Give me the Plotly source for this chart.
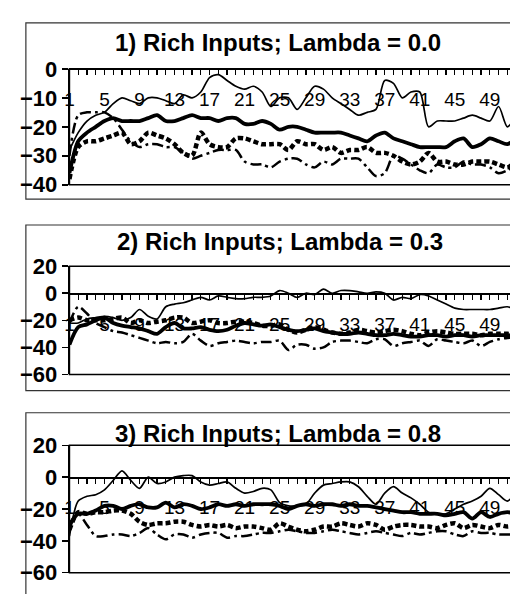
import plotly.graph_objects as go

W, H = 518, 594

categories = list(range(1, 53))
x_tick_vals = list(range(1, 53, 4))
x_tick_text = [str(v) for v in x_tick_vals]

titles = ["1) Rich Inputs; Lambda = 0.0",
          "2) Rich Inputs; Lambda = 0.3",
          "3) Rich Inputs; Lambda = 0.8"]

# ---- Panel 1 (Lambda = 0.0) ----
p1_thin = [-28, -22, -18, -16, -15, -12, -10, -11, -12, -10, -10, -11, -12, -9, -10, -8, -3, -2, -4, -6,
           -7, -6, -8, -13, -10, -10, -14, -10, -6, -7, -10, -12, -14, -16, -15, -14, -4, -5, -10, -8,
           -8, -20, -18, -18, -18, -17, -16, -17, -18, -13, -20, -16]
p1_thick = [-36, -25, -22, -20, -18, -17, -18, -18, -18, -17, -16, -18, -18, -17, -16, -17, -17, -18, -17, -17,
            -19, -19, -18, -19, -21, -20, -20, -21, -22, -22, -22, -22, -23, -24, -25, -23, -22, -24, -25, -26,
            -27, -27, -27, -27, -25, -24, -27, -26, -24, -25, -26, -24]
p1_square = [-38, -27, -25, -25, -24, -23, -22, -26, -25, -22, -23, -24, -26, -29, -30, -22, -26, -27, -27, -24,
             -24, -25, -26, -26, -26, -28, -25, -26, -26, -28, -27, -29, -28, -28, -27, -29, -29, -30, -32, -33,
             -32, -29, -32, -32, -33, -33, -32, -32, -32, -33, -34, -32]
p1_dashdot = [-30, -16, -15, -15, -15, -17, -21, -25, -27, -26, -26, -27, -27, -29, -31, -30, -29, -28, -28, -28,
              -32, -33, -33, -34, -32, -31, -31, -33, -34, -32, -33, -31, -31, -31, -34, -37, -36, -30, -31, -33,
              -35, -36, -33, -34, -34, -32, -33, -33, -34, -36, -35, -33]

# ---- Panel 2 (Lambda = 0.3) ----
p2_thin = [-22, -22, -19, -18, -17, -18, -20, -18, -12, -17, -19, -10, -8, -7, -5, -3, -5, -2, -3, -4,
           -4, -3, -3, -2, 2, 0, -3, 0, -1, 3, 0, 2, 2, 1, 0, 1, 0, -5, -3, -4,
           -1, -2, -5, -8, -11, -12, -12, -12, -12, -11, -10, -12]
p2_thick = [-38, -25, -23, -20, -18, -22, -24, -25, -26, -28, -30, -25, -22, -26, -26, -25, -27, -28, -27, -24,
            -22, -23, -24, -23, -25, -27, -28, -27, -26, -28, -29, -30, -30, -29, -30, -31, -31, -30, -31, -32,
            -32, -31, -31, -32, -31, -31, -32, -31, -31, -31, -31, -32]
p2_square = [-20, -18, -20, -20, -20, -19, -18, -22, -20, -22, -21, -20, -18, -18, -22, -21, -20, -22, -22, -21,
             -21, -22, -24, -24, -23, -27, -29, -27, -25, -27, -29, -30, -29, -27, -28, -29, -28, -27, -28, -30,
             -31, -29, -28, -29, -30, -30, -30, -31, -30, -30, -30, -31]
p2_dashdot = [-22, -10, -15, -22, -25, -28, -29, -31, -33, -35, -37, -36, -37, -36, -30, -35, -39, -37, -36, -35,
              -36, -37, -36, -36, -35, -42, -38, -38, -41, -40, -36, -35, -35, -36, -37, -34, -34, -39, -37, -36,
              -35, -39, -34, -35, -36, -37, -35, -39, -36, -34, -33, -33]

# ---- Panel 3 (Lambda = 0.8) ----
p3_thin = [-37, -15, -12, -11, -8, -2, 4, -2, -7, 0, -4, -3, 0, 1, 1, -3, -5, -4, -3, -7,
           -10, -9, -7, -8, -16, -18, -18, -17, -10, -5, -4, -3, -3, -6, -12, -17, -10, -6, -10, -13,
           -17, -22, -23, -23, -20, -17, -15, -12, -7, -11, -15, -9]
p3_thick = [-30, -23, -23, -21, -18, -18, -20, -18, -17, -19, -19, -16, -19, -17, -18, -20, -19, -17, -18, -17,
            -18, -17, -17, -17, -18, -20, -18, -17, -18, -17, -17, -18, -17, -18, -18, -19, -20, -21, -22, -22,
            -23, -23, -23, -24, -23, -22, -26, -22, -25, -23, -22, -23]
p3_square = [-33, -22, -23, -22, -22, -21, -21, -23, -28, -30, -29, -29, -28, -28, -30, -31, -30, -31, -30, -32,
             -31, -31, -32, -33, -29, -31, -33, -34, -33, -31, -31, -29, -30, -31, -29, -30, -33, -31, -30, -30,
             -31, -31, -32, -30, -29, -32, -30, -31, -32, -30, -31, -30]
p3_dashdot = [-30, -23, -30, -37, -37, -36, -36, -37, -35, -32, -36, -39, -36, -36, -38, -36, -35, -35, -38, -37,
              -37, -36, -35, -35, -34, -33, -34, -35, -35, -34, -33, -34, -35, -36, -35, -34, -35, -36, -37, -35,
              -36, -35, -34, -34, -36, -37, -34, -35, -35, -36, -36, -36]

panels = [
    dict(title=titles[0], series=[p1_thin, p1_thick, p1_square, p1_dashdot], yrange=[-40, 0], dtick=10,
         box=(57, 51, 508, 172), frame=(13, 3, 530, 187), title_pos=(268, 23)),
    dict(title=titles[1], series=[p2_thin, p2_thick, p2_square, p2_dashdot], yrange=[-60, 20], dtick=20,
         box=(57, 257, 508, 370), frame=(13, 214, 530, 387), title_pos=(270, 231)),
    dict(title=titles[2], series=[p3_thin, p3_thick, p3_square, p3_dashdot], yrange=[-60, 20], dtick=20,
         box=(57, 444, 508, 577), frame=(13, 410, 530, 620), title_pos=(268, 432)),
]

styles = [
    dict(width=1.7, dash="solid"),
    dict(width=3.8, dash="solid"),
    dict(width=4.5, dash="5px,3px"),
    dict(width=2.5, dash="11px,4px,3px,4px"),
]

FONT = "Liberation Sans, Arial, sans-serif"

fig = go.Figure()
shapes = []
annotations = []
layout_axes = {}

for i, p in enumerate(panels):
    n = i + 1
    xname = "x" if n == 1 else f"x{n}"
    yname = "y" if n == 1 else f"y{n}"
    x0, y0, x1, y1 = p["box"]
    xdom = [x0 / W, x1 / W]
    ydom = [1 - y1 / H, 1 - y0 / H]
    ymin, ymax = p["yrange"]
    zero_pos = ydom[0] + (0 - ymin) / (ymax - ymin) * (ydom[1] - ydom[0])

    for vals, st in zip(p["series"], styles):
        fig.add_trace(go.Scatter(
            x=categories, y=vals, mode="lines", xaxis=xname, yaxis=yname,
            line=dict(color="black", width=st["width"], dash=st["dash"], shape="spline", smoothing=0.8),
            showlegend=False, hoverinfo="skip"))

    layout_axes["xaxis" if n == 1 else f"xaxis{n}"] = dict(
        domain=xdom, range=[1, 52], anchor="free", position=zero_pos,
        showgrid=False, zeroline=False, showline=True, linecolor="black", linewidth=1.5,
        tickmode="array", tickvals=x_tick_vals, ticktext=x_tick_text,
        ticks="outside", ticklen=5, tickwidth=1.2, tickcolor="black",
        minor=dict(tickmode="linear", tick0=1, dtick=1, ticks="outside", ticklen=5,
                   tickwidth=1.2, tickcolor="black", showgrid=False),
        ticklabelstandoff=8,
        tickfont=dict(family=FONT, size=19, color="black"),
        fixedrange=True,
    )
    layout_axes["yaxis" if n == 1 else f"yaxis{n}"] = dict(
        domain=ydom, range=p["yrange"], anchor=xname, side="left",
        tickmode="linear", tick0=ymin, dtick=p["dtick"],
        showgrid=False, zeroline=False, showline=True, linecolor="black", linewidth=1.8,
        ticks="outside", ticklen=6, tickwidth=1.5, tickcolor="black",
        tickfont=dict(family=FONT, size=22, color="black", weight="bold"),
        fixedrange=True,
    )
    shapes.append(dict(type="rect", xref=f"{xname} domain", yref=f"{yname} domain",
                       x0=0, x1=1, y0=0, y1=1, line=dict(color="black", width=1.5), layer="above"))
    fx0, fy0, fx1, fy1 = p["frame"]
    shapes.append(dict(type="rect", xref="paper", yref="paper",
                       x0=fx0 / W, x1=fx1 / W, y0=1 - fy1 / H, y1=1 - fy0 / H,
                       line=dict(color="#333333", width=1.2), layer="below"))
    tx, ty = p["title_pos"]
    annotations.append(dict(text=p["title"], xref="paper", yref="paper", x=tx / W, y=1 - ty / H,
                            xanchor="center", yanchor="middle", showarrow=False,
                            font=dict(family=FONT, size=24, color="black", weight="bold")))

fig.update_layout(
    width=W, height=H, margin=dict(l=0, r=0, t=0, b=0),
    paper_bgcolor="white", plot_bgcolor="white",
    shapes=shapes, annotations=annotations, showlegend=False,
    **layout_axes,
)

fig.write_html("out.html", config={"displayModeBar": False, "staticPlot": True})
